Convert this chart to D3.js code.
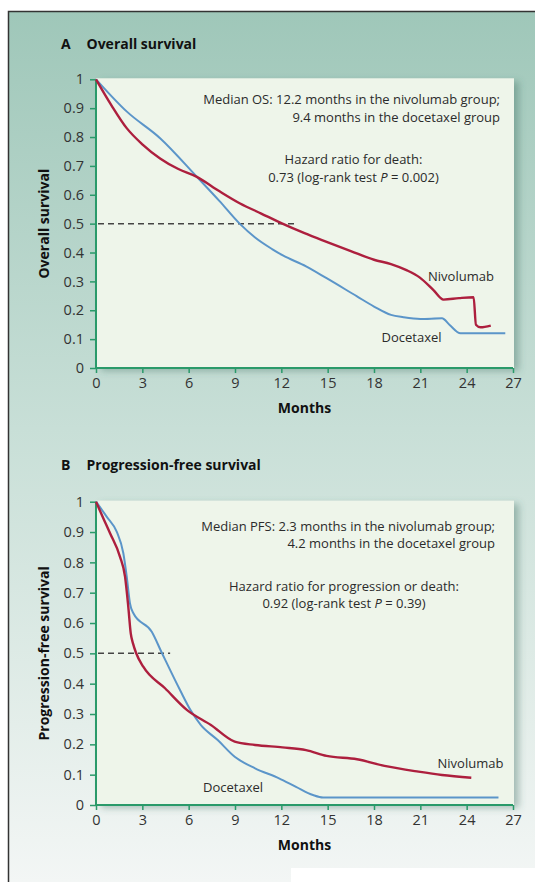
<!DOCTYPE html>
<html>
<head>
<meta charset="utf-8">
<script src="https://cdn.jsdelivr.net/npm/d3@7"></script>
<style>
  html, body { margin: 0; padding: 0; background: #fff; }
  svg { display: block; font-family: "Open Sans", "DejaVu Sans", sans-serif; }
</style>
</head>
<body>
<div id="chart"></div>
<script>
// tick values
var monthTicks = [0, 3, 6, 9, 12, 15, 18, 21, 24, 27];
var survTicks = [0, 0.1, 0.2, 0.3, 0.4, 0.5, 0.6, 0.7, 0.8, 0.9, 1];

// overall survival, [month, proportion]
var osNivolumab = [[0, 1], [1, 0.91], [2, 0.83], [3, 0.775], [4.15, 0.726], [5.3, 0.69], [6.5, 0.663],
  [8, 0.612], [9.33, 0.57], [10.7, 0.535], [12.07, 0.5], [13.5, 0.467], [14.93, 0.437], [16.5, 0.405],
  [18, 0.375], [19.1, 0.36], [20.1, 0.339], [20.95, 0.314], [21.85, 0.27], [22.5, 0.237], [23.5, 0.242],
  [24.45, 0.245], [24.6, 0.15], [24.9, 0.141], [25.56, 0.147]];
var osDocetaxel = [[0, 1], [2, 0.888], [4.15, 0.796], [6.52, 0.663], [8, 0.578], [9.3, 0.5], [10.3, 0.452],
  [11.4, 0.412], [12.1, 0.39], [13.6, 0.352], [14.93, 0.311], [16.9, 0.248], [18, 0.213], [19.1, 0.184],
  [19.9, 0.176], [21, 0.17], [22.4, 0.172], [22.9, 0.149], [23.6, 0.12], [26.5, 0.12]];

// progression-free survival, [month, proportion]
var pfsNivolumab = [[0, 1], [0.45, 0.948], [0.91, 0.896], [1.55, 0.819], [1.88, 0.753], [2.09, 0.654],
  [2.25, 0.566], [2.4, 0.532], [2.59, 0.502], [3.06, 0.456], [4.47, 0.385], [5.9, 0.313], [7.44, 0.264],
  [8.98, 0.209], [10.3, 0.198], [12.07, 0.19], [13.6, 0.181], [14.93, 0.162], [16.9, 0.151],
  [18.68, 0.129], [20.88, 0.11], [22.4, 0.099], [24.3, 0.09]];
var pfsDocetaxel = [[0, 1], [0.7, 0.95], [1.34, 0.901], [1.77, 0.83], [1.99, 0.753], [2.2, 0.665],
  [2.42, 0.632], [3.61, 0.571], [4.26, 0.502], [5.44, 0.379], [6.12, 0.313], [6.78, 0.264], [7.88, 0.214],
  [8.98, 0.159], [10.3, 0.121], [11.85, 0.088], [12.95, 0.06], [14.05, 0.033], [14.7, 0.025], [26.06, 0.025]];

// median reference lines, [end month, level]
var osMedianLine = [13.06, 0.5];
var pfsMedianLine = [4.8, 0.5];

// annotation text
var osMedianNote = ["Median OS: 12.2 months in the nivolumab group;", "9.4 months in the docetaxel group"];
var osHazardNote = ["Hazard ratio for death:", "0.73 (log-rank test ", "P", " = 0.002)"];
var pfsMedianNote = ["Median PFS: 2.3 months in the nivolumab group;", "4.2 months in the docetaxel group"];
var pfsHazardNote = ["Hazard ratio for progression or death:", "0.92 (log-rank test ", "P", " = 0.39)"];

var W = 535, H = 882;
var red = "#ad1f3e", blue = "#5b95c9", green = "#2a9a6a", ink = "#2b2b2b";

var svg = d3.select("#chart").append("svg")
  .attr("width", W)
  .attr("height", H);

var defs = svg.append("defs");
var bg = defs.append("linearGradient").attr("id", "bg")
  .attr("x1", 0).attr("y1", 0).attr("x2", 0).attr("y2", 1);
bg.append("stop").attr("offset", "0%").attr("stop-color", "#9fc7b9");
bg.append("stop").attr("offset", "48%").attr("stop-color", "#c8dfd7");
bg.append("stop").attr("offset", "82%").attr("stop-color", "#e4eeea");
bg.append("stop").attr("offset", "100%").attr("stop-color", "#f3f6f5");

var shadow = defs.append("filter").attr("id", "shadow")
  .attr("x", "-5%").attr("y", "-5%").attr("width", "115%").attr("height", "115%");
shadow.append("feDropShadow")
  .attr("dx", 5).attr("dy", 3).attr("stdDeviation", 3.5)
  .attr("flood-color", "#3f6f62").attr("flood-opacity", 0.4);

// frame
svg.append("rect")
  .attr("x", 8).attr("y", 11)
  .attr("width", W - 8).attr("height", H - 11)
  .attr("fill", "url(#bg)");
svg.append("rect")
  .attr("x", 291).attr("y", 868)
  .attr("width", W - 291).attr("height", H - 868)
  .attr("fill", "#fff");
svg.append("path")
  .attr("d", "M8.5," + H + "V11.5H" + W)
  .attr("fill", "none")
  .attr("stroke", "#333")
  .attr("stroke-width", 1.5);

function panel(opt) {
  var x = d3.scaleLinear().domain([0, 27]).range([96, 513]);
  var y = d3.scaleLinear().domain([0, 1]).range([opt.bottom, opt.top]);
  var g = svg.append("g");

  g.append("rect")
    .attr("x", x(0)).attr("y", y(1) - 1)
    .attr("width", x(27) - x(0) + 1).attr("height", y(0) - y(1) + 1)
    .attr("fill", "#eef5ea")
    .attr("filter", "url(#shadow)");

  // panel title
  var t = g.append("text")
    .attr("x", 61).attr("y", opt.titleY)
    .style("font-size", "14px").attr("font-weight", 700).attr("fill", "#111");
  t.append("tspan").text(opt.letter);
  t.append("tspan").attr("x", 86.5).text(opt.title);

  // axes
  var xAxis = g.append("g")
    .attr("transform", "translate(0," + y(0) + ")")
    .call(d3.axisBottom(x).tickValues(monthTicks).tickSize(5).tickPadding(5));
  var yAxis = g.append("g")
    .attr("transform", "translate(" + x(0) + ",0)")
    .call(d3.axisLeft(y).tickValues(survTicks).tickSize(6).tickPadding(6)
      .tickFormat(function (d) { return (d === 0 || d === 1) ? d : d.toFixed(1); }));
  [xAxis, yAxis].forEach(function (a) {
    a.attr("font-size", null).attr("font-family", null);
    a.select(".domain").attr("stroke", green).attr("stroke-width", 2);
    a.selectAll(".tick line").attr("stroke", green).attr("stroke-width", 1.5);
    a.selectAll(".tick text")
      .style("font-size", "14.5px")
      .style("font-family", "'Open Sans', sans-serif")
      .attr("fill", "#333");
  });
  xAxis.select(".domain").attr("d", "M" + (x(0) - 1) + ",0H" + x(27));
  yAxis.select(".domain").attr("d", "M0," + (y(0) + 1) + "V" + y(1));

  g.append("text")
    .attr("x", (x(0) + x(27)) / 2).attr("y", opt.bottom + 45)
    .attr("text-anchor", "middle")
    .style("font-size", "14px").attr("font-weight", 700).attr("fill", "#111")
    .text("Months");
  g.append("text")
    .attr("transform", "translate(49," + (opt.top + opt.bottom) / 2 + ") rotate(-90)")
    .attr("text-anchor", "middle")
    .style("font-size", "14px").attr("font-weight", 700).attr("fill", "#111")
    .text(opt.yLabel);

  // dashed median line
  g.append("line")
    .attr("x1", x(0) + 2).attr("x2", x(opt.median[0]))
    .attr("y1", y(opt.median[1])).attr("y2", y(opt.median[1]))
    .attr("stroke", "#444").attr("stroke-width", 1.5)
    .attr("stroke-dasharray", "6,4");

  var line = d3.line()
    .curve(d3.curveMonotoneX)
    .x(function (d) { return x(d[0]); })
    .y(function (d) { return y(d[1]); });

  g.append("path")
    .datum(opt.doce)
    .attr("fill", "none")
    .attr("stroke", blue).attr("stroke-width", 2)
    .attr("stroke-linejoin", "round")
    .attr("d", line);
  g.append("path")
    .datum(opt.nivo)
    .attr("fill", "none")
    .attr("stroke", red).attr("stroke-width", 2.4)
    .attr("stroke-linejoin", "round")
    .attr("d", line);

  // series labels
  g.append("text")
    .attr("x", opt.nivoLabel[0]).attr("y", opt.nivoLabel[1])
    .style("font-size", "13px").attr("fill", ink).text("Nivolumab");
  g.append("text")
    .attr("x", opt.doceLabel[0]).attr("y", opt.doceLabel[1])
    .style("font-size", "13px").attr("fill", ink).text("Docetaxel");

  // notes
  var notes = g.append("g").style("font-size", "13px").attr("fill", ink);
  opt.medianNote.forEach(function (s, i) {
    notes.append("text")
      .attr("x", opt.medianX).attr("y", opt.noteY + i * 17.3)
      .attr("text-anchor", "end")
      .text(s);
  });
  notes.append("text")
    .attr("x", opt.hazardX).attr("y", opt.noteY + 60)
    .attr("text-anchor", "middle")
    .text(opt.hazardNote[0]);
  var h2 = notes.append("text")
    .attr("x", opt.hazardX).attr("y", opt.noteY + 77.3)
    .attr("text-anchor", "middle");
  h2.append("tspan").text(opt.hazardNote[1]);
  h2.append("tspan").attr("font-style", "italic").text(opt.hazardNote[2]);
  h2.append("tspan").text(opt.hazardNote[3]);
}

panel({
  top: 79.3, bottom: 368, titleY: 48.5,
  letter: "A", title: "Overall survival", yLabel: "Overall survival",
  nivo: osNivolumab, doce: osDocetaxel, median: osMedianLine,
  nivoLabel: [428, 281], doceLabel: [381.5, 341.5],
  medianNote: osMedianNote, hazardNote: osHazardNote,
  medianX: 500, hazardX: 353.5, noteY: 104.3
});

panel({
  top: 501.7, bottom: 805, titleY: 470,
  letter: "B", title: "Progression-free survival", yLabel: "Progression-free survival",
  nivo: pfsNivolumab, doce: pfsDocetaxel, median: pfsMedianLine,
  nivoLabel: [437.5, 767.5], doceLabel: [203, 791.5],
  medianNote: pfsMedianNote, hazardNote: pfsHazardNote,
  medianX: 495, hazardX: 344, noteY: 531
});
</script>
</body>
</html>
